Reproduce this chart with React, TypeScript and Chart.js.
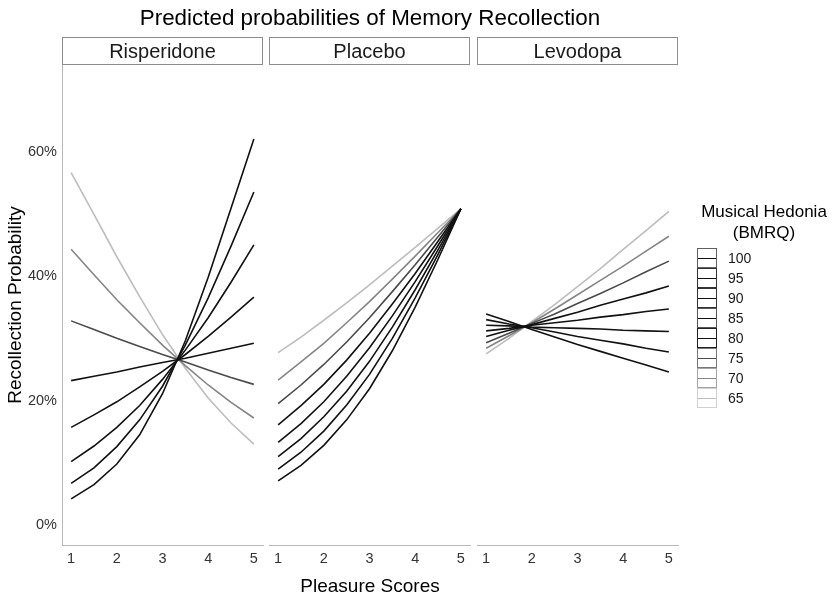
import React, { useEffect, useRef } from 'react';
import { Chart, registerables } from 'chart.js';

Chart.register(...registerables);

// ---------- data ----------
const PLEASURE = [1, 1.5, 2, 2.5, 3, 3.5, 4, 4.5, 5];
const X_TICKS = [1, 2, 3, 4, 5];
const Y_TICKS = [0, 20, 40, 60];
const HEDONIA = [65, 70, 75, 80, 85, 90, 95, 100];
const PANELS = ['Risperidone', 'Placebo', 'Levodopa'];

// predicted recollection probability (%), one row per hedonia level (65 .. 100)
const RISPERIDONE = [
  [56.6, 49.9, 43.1, 36.7, 30.6, 25.2, 20.4, 16.4, 13.0],
  [44.3, 40.2, 36.2, 32.5, 28.9, 25.6, 22.5, 19.7, 17.2],
  [32.8, 31.4, 30.0, 28.7, 27.4, 26.2, 24.9, 23.7, 22.6],
  [23.2, 23.9, 24.6, 25.4, 26.1, 26.8, 27.6, 28.4, 29.2],
  [15.7, 17.7, 19.8, 22.2, 24.7, 27.4, 30.3, 33.4, 36.6],
  [10.2, 12.7, 15.7, 19.2, 23.4, 28.1, 33.3, 39.0, 45.0],
  [6.7, 9.2, 12.6, 16.9, 22.3, 28.9, 36.5, 44.8, 53.5],
  [4.2, 6.5, 9.8, 14.5, 21.1, 29.6, 39.8, 50.9, 62.0],
];
const PLACEBO = [
  [27.7, 30.2, 32.9, 35.7, 38.6, 41.6, 44.6, 47.7, 50.8],
  [23.3, 26.2, 29.2, 32.5, 35.9, 39.5, 43.2, 47.0, 50.8],
  [19.5, 22.5, 25.8, 29.4, 33.3, 37.5, 41.8, 46.3, 50.8],
  [16.1, 19.2, 22.6, 26.5, 30.8, 35.5, 40.4, 45.6, 50.8],
  [13.3, 16.3, 19.8, 23.9, 28.5, 33.6, 39.1, 44.9, 50.8],
  [11.0, 13.9, 17.4, 21.5, 26.3, 31.8, 37.8, 44.2, 50.8],
  [9.0, 11.7, 15.1, 19.3, 24.2, 30.0, 36.5, 43.5, 50.8],
  [7.1, 9.6, 12.8, 16.9, 21.9, 28.0, 35.0, 42.7, 50.8],
];
const LEVODOPA = [
  [27.5, 30.0, 32.7, 35.4, 38.3, 41.2, 44.3, 47.3, 50.4],
  [28.4, 30.4, 32.5, 34.7, 37.0, 39.3, 41.6, 44.0, 46.4],
  [29.3, 30.8, 32.4, 33.9, 35.6, 37.2, 38.9, 40.7, 42.4],
  [30.3, 31.3, 32.2, 33.2, 34.2, 35.3, 36.3, 37.3, 38.4],
  [31.2, 31.6, 32.1, 32.5, 32.9, 33.4, 33.8, 34.3, 34.7],
  [32.1, 32.0, 31.8, 31.7, 31.6, 31.5, 31.3, 31.2, 31.1],
  [33.0, 32.3, 31.7, 31.0, 30.3, 29.7, 29.1, 28.4, 27.8],
  [33.9, 32.7, 31.4, 30.2, 29.0, 27.9, 26.8, 25.7, 24.6],
];
const PANEL_DATA = [RISPERIDONE, PLACEBO, LEVODOPA];

// ---------- styles / layout ----------
const FONT = '"Liberation Sans", Arial, Helvetica, sans-serif';
const LINE_COLORS = ['#bdbdbd', '#858585', '#4a4a4a', '#111111', '#111111', '#111111', '#111111', '#111111'];
const LEGEND_BORDER = ['#d0d0d0', '#a5a5a5', '#777777', '#222222', '#555555', '#333333', '#333333', '#606060'];
const W = 838;
const H = 596;
const PANEL_LEFT = [62, 269, 477];
const PANEL_RIGHT = [263, 470, 678];
const STRIP_TOP = 37;
const STRIP_H = 28;
const PLOT_TOP = 65;
const X_AXIS_H = 51;

const stripPlugin = {
  id: 'strip',
  afterDraw(chart: any, _args: any, opts: any) {
    const { ctx, chartArea } = chart;
    ctx.save();
    const x = Math.round(chartArea.left) + 0.5;
    const w = Math.round(chartArea.right - chartArea.left) - 1;
    ctx.fillStyle = '#ffffff';
    ctx.fillRect(x, STRIP_TOP + 0.5, w, STRIP_H - 1);
    ctx.strokeStyle = '#8c8c8c';
    ctx.lineWidth = 1;
    ctx.strokeRect(x, STRIP_TOP + 0.5, w, STRIP_H - 1);
    ctx.fillStyle = '#1a1a1a';
    ctx.font = `20px ${FONT}`;
    ctx.textAlign = 'center';
    ctx.textBaseline = 'middle';
    ctx.fillText(opts.text, (chartArea.left + chartArea.right) / 2, STRIP_TOP + STRIP_H / 2 + 1);
    ctx.restore();
  },
};

function makeConfig(i: number): any {
  const rows = PANEL_DATA[i];
  const datasets = rows
    .map((row, j) => ({
      label: String(HEDONIA[j]),
      data: PLEASURE.map((x, k) => ({ x, y: row[k] })),
      borderColor: LINE_COLORS[j],
      backgroundColor: LINE_COLORS[j],
      borderWidth: 1.6,
      pointRadius: 0,
      tension: 0,
      fill: false,
    }))
    .reverse();
  return {
    type: 'line',
    data: { datasets },
    plugins: [stripPlugin],
    options: {
      animation: false,
      responsive: false,
      events: [],
      layout: {
        padding: {
          left: i === 0 ? 0 : PANEL_LEFT[i],
          right: W - PANEL_RIGHT[i],
          top: PLOT_TOP,
          bottom: 0,
        },
      },
      plugins: {
        legend: { display: false },
        tooltip: { enabled: false },
        strip: { text: PANELS[i] },
      },
      scales: {
        x: {
          type: 'linear',
          min: 0.8,
          max: 5.2,
          afterBuildTicks: (s: any) => {
            s.ticks = X_TICKS.map((v) => ({ value: v }));
          },
          afterFit: (s: any) => {
            s.height = X_AXIS_H;
          },
          grid: { display: false, drawTicks: false },
          border: { display: true, color: '#b8b8b8', width: 1 },
          ticks: {
            color: '#333333',
            font: { family: FONT, size: 14.5 },
            padding: 5,
            maxRotation: 0,
            callback: (v: any) => String(v),
          },
        },
        y: {
          type: 'linear',
          display: i === 0,
          min: -3.2,
          max: 73.9,
          afterBuildTicks: (s: any) => {
            s.ticks = Y_TICKS.map((v) => ({ value: v }));
          },
          afterFit: (s: any) => {
            s.width = i === 0 ? PANEL_LEFT[0] : 0;
          },
          grid: { display: false, drawTicks: false },
          border: { display: true, color: '#b8b8b8', width: 1 },
          ticks: {
            color: '#333333',
            font: { family: FONT, size: 14.5 },
            padding: 5,
            callback: (v: any) => `${v}%`,
          },
          title: {
            display: true,
            text: 'Recollection Probability',
            color: '#000000',
            font: { family: FONT, size: 19 },
            padding: { top: 4, bottom: 4 },
          },
        },
      },
    },
  };
}

function Panel({ index }: { index: number }) {
  const ref = useRef<HTMLCanvasElement>(null);
  useEffect(() => {
    const chart = new Chart(ref.current as HTMLCanvasElement, makeConfig(index));
    return () => chart.destroy();
  }, [index]);
  return (
    <canvas
      ref={ref}
      width={W}
      height={H}
      style={{ position: 'absolute', left: 0, top: 0, width: W, height: H }}
    />
  );
}

export default function App() {
  Chart.defaults.font.family = FONT;
  const legendOrder = HEDONIA.map((h, j) => ({ h, j })).reverse();
  return (
    <div
      style={{
        position: 'absolute',
        left: 0,
        top: 0,
        width: W,
        height: H,
        background: '#ffffff',
        overflow: 'hidden',
        fontFamily: FONT,
      }}
    >
      {PANELS.map((_, i) => (
        <Panel key={i} index={i} />
      ))}
      <div
        style={{
          position: 'absolute',
          left: (PANEL_LEFT[0] + PANEL_RIGHT[2]) / 2,
          top: 18,
          transform: 'translate(-50%, -50%)',
          whiteSpace: 'nowrap',
          fontSize: 22.4,
          color: '#000',
        }}
      >
        Predicted probabilities of Memory Recollection
      </div>
      <div
        style={{
          position: 'absolute',
          left: (PANEL_LEFT[0] + PANEL_RIGHT[2]) / 2,
          top: 586,
          transform: 'translate(-50%, -50%)',
          whiteSpace: 'nowrap',
          fontSize: 19,
          color: '#000',
        }}
      >
        Pleasure Scores
      </div>
      <div
        style={{
          position: 'absolute',
          left: 764,
          top: 201,
          transform: 'translateX(-50%)',
          whiteSpace: 'nowrap',
          fontSize: 17,
          lineHeight: '21px',
          textAlign: 'center',
          color: '#000',
        }}
      >
        Musical Hedonia
        <br />
        (BMRQ)
      </div>
      {legendOrder.map(({ h, j }, k) => (
        <React.Fragment key={h}>
          <div
            style={{
              position: 'absolute',
              left: 697,
              top: 248 + k * 20,
              width: 20,
              height: 20,
              boxSizing: 'border-box',
              border: `1px solid ${LEGEND_BORDER[j]}`,
              background: '#fff',
            }}
          >
            <div
              style={{
                position: 'absolute',
                left: 0,
                right: 0,
                top: 8.5,
                height: 1.6,
                background: LINE_COLORS[j],
              }}
            />
          </div>
          <div
            style={{
              position: 'absolute',
              left: 728,
              top: 258 + k * 20,
              transform: 'translateY(-50%)',
              fontSize: 14,
              color: '#1a1a1a',
              whiteSpace: 'nowrap',
            }}
          >
            {h}
          </div>
        </React.Fragment>
      ))}
    </div>
  );
}
